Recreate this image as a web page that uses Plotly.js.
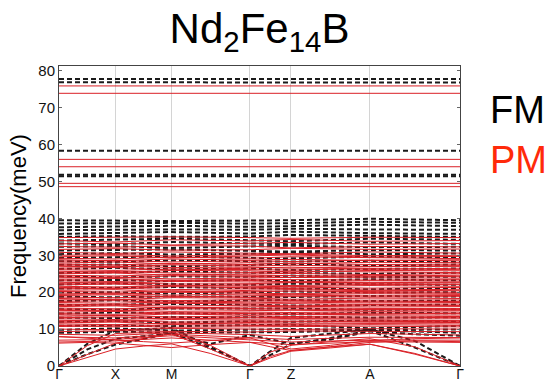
<!DOCTYPE html>
<html>
<head>
<meta charset="utf-8">
<script src="https://cdn.plot.ly/plotly-3.0.1.min.js"></script>
<style>html,body{margin:0;padding:0;background:#fff;}#chart{width:550px;height:382px;}</style>
</head>
<body>
<div id="chart"></div>
<script>
// k-path: high-symmetry points and their positions along the path
const kLabels = ['Γ', 'X', 'M', 'Γ', 'Z', 'A', 'Γ'];
const kTicks = [0, 0.564, 1.122, 1.905, 2.314, 3.102, 4.0];
// finer grid (high-symmetry points + midpoints) used for the acoustic-like branches
const kFine = [0, 0.282, 0.564, 0.843, 1.122, 1.51, 1.905, 2.11, 2.314, 2.71, 3.102, 3.55, 4.0];

// FM (ferromagnetic) bands, values at kTicks, meV
const fmHigh = [
  [77.8, 77.8, 77.8, 77.8, 77.8, 77.8, 77.8],
  [76.9, 76.9, 76.9, 76.9, 76.9, 76.9, 76.8],
  [58.3, 58.3, 58.3, 58.3, 58.3, 58.3, 58.3],
  [51.8, 51.8, 51.8, 51.8, 51.8, 51.8, 51.8],
  [51.4, 51.4, 51.4, 51.4, 51.4, 51.5, 51.4]
];
const fmBands = [
  [39.5, 39.4, 39.3, 39.4, 39.5, 39.9, 39.5],
  [38.6, 38.7, 38.8, 38.6, 38.7, 39.1, 38.8],
  [37.6, 37.8, 38.0, 37.7, 37.9, 38.3, 37.9],
  [36.8, 36.9, 37.0, 36.9, 37.2, 37.0, 36.9],
  [35.8, 36.0, 36.3, 35.9, 36.4, 36.0, 35.8],
  [35.0, 35.2, 35.0, 35.1, 35.5, 35.2, 35.0],
  [34.0, 34.3, 34.5, 34.1, 33.8, 34.5, 34.2],
  [33.2, 33.0, 33.6, 33.2, 33.0, 33.5, 33.1],
  [32.3, 32.5, 32.0, 32.4, 32.6, 32.2, 32.3],
  [31.3, 31.5, 31.6, 31.2, 31.0, 31.4, 31.3],
  [30.3, 30.6, 30.2, 30.4, 30.8, 30.3, 30.5],
  [29.3, 29.4, 29.7, 29.3, 29.2, 29.6, 29.4],
  [28.4, 28.2, 28.6, 28.5, 28.3, 28.5, 28.2],
  [27.4, 27.5, 27.0, 27.4, 27.6, 27.2, 27.5],
  [26.3, 26.6, 26.2, 26.4, 26.0, 26.3, 26.4],
  [25.2, 25.4, 25.6, 25.3, 25.2, 25.0, 25.3],
  [24.3, 24.0, 24.3, 24.2, 24.5, 24.1, 24.2],
  [23.2, 23.3, 23.0, 23.3, 23.1, 23.5, 23.2],
  [22.1, 22.4, 22.2, 22.0, 22.3, 22.2, 22.0],
  [21.0, 21.2, 21.4, 21.1, 21.0, 20.8, 21.1],
  [19.9, 20.0, 19.6, 20.0, 20.2, 19.9, 20.0],
  [18.8, 18.6, 18.9, 18.9, 18.7, 19.0, 18.8],
  [17.6, 17.8, 17.5, 17.7, 17.9, 17.6, 17.7],
  [16.5, 16.6, 16.8, 16.6, 16.4, 16.5, 16.6],
  [15.4, 15.3, 15.6, 15.5, 15.6, 15.2, 15.4],
  [14.2, 14.5, 14.3, 14.3, 14.1, 14.4, 14.3],
  [13.1, 13.0, 13.3, 13.2, 13.4, 13.1, 13.2],
  [12.0, 12.2, 11.8, 12.1, 12.0, 12.3, 12.0],
  [10.9, 11.0, 10.8, 11.0, 11.2, 10.2, 10.9],
  [9.8, 10.2, 9.6, 9.9, 10.0, 9.8, 9.9],
  [9.0, 9.3, 9.0, 9.1, 9.2, 9.7, 9.0]
];
// FM acoustic-like branches, values at kFine
const fmLow = [
  [0, 3.2, 5.8, 7.3, 8.9, 4.8, 0, 3.0, 5.9, 7.6, 9.6, 5.0, 0],
  [0, 6.0, 9.6, 10.0, 10.3, 5.2, 0, 4.0, 7.6, 8.8, 9.9, 6.8, 0],
  [0, 4.5, 7.4, 8.2, 8.8, 6.0, 8.4, 7.2, 6.1, 7.2, 9.4, 8.6, 8.2]
];

// PM (paramagnetic) bands, values at kTicks, meV
const pmHigh = [
  [75.9, 75.9, 75.9, 75.9, 75.9, 75.9, 75.9],
  [73.9, 73.9, 73.9, 73.9, 73.9, 73.9, 73.9],
  [56.0, 56.0, 56.0, 56.0, 56.0, 56.0, 56.0],
  [54.0, 54.0, 54.0, 54.0, 54.0, 54.0, 54.0],
  [49.5, 49.5, 49.5, 49.5, 49.5, 49.5, 49.5],
  [48.6, 48.6, 48.6, 48.6, 48.6, 48.7, 48.6]
];
const pmBands = [
  [34.8, 34.9, 35.0, 34.8, 34.6, 34.9, 34.8],
  [34.0, 33.6, 34.2, 33.9, 34.3, 33.8, 34.0],
  [33.1, 33.3, 32.8, 33.2, 33.5, 33.0, 33.2],
  [32.4, 32.2, 32.6, 32.5, 32.0, 32.4, 32.3],
  [31.6, 31.8, 31.4, 31.5, 31.9, 31.6, 31.7],
  [30.8, 30.5, 30.9, 30.7, 30.4, 30.9, 30.6],
  [30.0, 30.2, 29.8, 30.1, 30.3, 29.9, 30.0],
  [29.6, 29.9, 29.3, 29.8, 30.1, 29.5, 29.7],
  [29.2, 29.0, 29.5, 29.2, 29.6, 29.3, 29.1],
  [28.8, 28.5, 29.0, 28.7, 28.9, 28.6, 28.8],
  [28.4, 28.6, 28.2, 28.5, 28.3, 28.7, 28.5],
  [27.9, 28.2, 27.6, 28.0, 27.7, 28.1, 28.0],
  [27.6, 27.4, 27.8, 27.5, 27.9, 27.5, 27.6],
  [27.2, 26.9, 27.4, 27.1, 27.3, 27.0, 27.2],
  [26.9, 27.1, 26.7, 26.8, 26.5, 26.9, 27.0],
  [26.5, 26.7, 26.0, 26.6, 26.8, 26.2, 26.5],
  [26.1, 25.9, 26.3, 26.2, 26.0, 26.4, 26.1],
  [25.7, 25.3, 25.9, 25.8, 25.4, 25.9, 25.8],
  [25.4, 25.6, 25.2, 25.3, 25.7, 25.5, 25.3],
  [25.0, 25.2, 24.6, 24.9, 25.1, 24.8, 25.0],
  [24.6, 24.4, 24.8, 24.7, 24.5, 24.3, 24.6],
  [24.2, 23.9, 24.4, 24.3, 24.0, 24.6, 24.2],
  [23.9, 24.1, 23.6, 23.8, 24.0, 23.9, 23.8],
  [23.5, 23.7, 23.1, 23.5, 23.4, 23.3, 23.4],
  [23.1, 22.9, 23.3, 23.2, 22.8, 23.1, 23.0],
  [22.7, 22.4, 22.9, 22.8, 22.9, 22.6, 22.7],
  [22.4, 22.6, 22.2, 22.3, 22.6, 22.4, 22.5],
  [22.0, 22.2, 21.7, 22.0, 21.8, 22.1, 22.1],
  [21.6, 21.4, 21.8, 21.7, 21.5, 21.8, 21.6],
  [21.3, 21.0, 21.5, 21.2, 21.4, 21.1, 21.3],
  [20.9, 21.1, 20.7, 20.8, 21.0, 20.6, 20.8],
  [20.5, 20.7, 20.1, 20.5, 20.7, 20.4, 20.5],
  [20.2, 20.0, 20.4, 20.1, 20.3, 20.2, 20.0],
  [19.8, 19.5, 20.0, 19.8, 19.6, 19.9, 19.7],
  [19.4, 19.6, 19.2, 19.5, 19.3, 19.6, 19.4],
  [19.1, 19.3, 18.7, 19.0, 19.2, 19.0, 19.1],
  [18.7, 18.5, 18.9, 18.6, 18.8, 18.7, 18.8],
  [18.3, 18.0, 18.5, 18.4, 18.1, 18.4, 18.3],
  [17.9, 18.1, 17.7, 18.0, 17.8, 17.8, 17.9],
  [17.5, 17.7, 17.2, 17.6, 17.6, 17.4, 17.5],
  [17.2, 17.0, 17.4, 17.1, 17.3, 17.1, 17.2],
  [16.8, 16.5, 17.0, 16.8, 16.9, 16.7, 16.8],
  [16.4, 16.6, 16.2, 16.5, 16.3, 16.5, 16.4],
  [16.1, 16.3, 15.7, 16.0, 16.2, 16.0, 16.1],
  [15.7, 15.5, 15.9, 15.6, 15.8, 15.6, 15.6],
  [15.3, 15.0, 15.5, 15.4, 15.2, 15.3, 15.3],
  [15.0, 15.2, 14.8, 14.9, 15.1, 14.9, 15.0],
  [14.6, 14.8, 14.3, 14.6, 14.5, 14.7, 14.6],
  [14.2, 14.0, 14.4, 14.3, 14.1, 14.3, 14.2],
  [13.9, 13.6, 14.1, 13.8, 14.0, 13.9, 13.8],
  [13.5, 13.7, 13.3, 13.6, 13.4, 13.6, 13.4],
  [13.1, 13.3, 12.8, 13.2, 13.1, 13.0, 13.2],
  [12.8, 12.6, 13.0, 12.7, 12.9, 12.7, 12.8],
  [12.4, 12.1, 12.6, 12.4, 12.5, 12.5, 12.3],
  [12.1, 12.3, 11.9, 12.0, 12.2, 12.1, 12.0],
  [11.7, 11.9, 11.3, 11.8, 11.6, 11.7, 11.8],
  [11.4, 11.2, 11.6, 11.5, 11.3, 11.5, 11.4],
  [11.0, 10.6, 11.2, 11.0, 10.9, 11.2, 11.0],
  [10.7, 10.9, 10.5, 10.6, 10.8, 10.8, 10.6],
  [10.0, 9.8, 10.2, 10.1, 9.9, 10.1, 10.0],
  [9.3, 9.6, 9.4, 9.2, 9.5, 9.4, 9.3],
  [8.6, 8.3, 9.0, 8.5, 8.0, 8.8, 8.4],
  [7.9, 7.6, 8.6, 7.8, 7.2, 7.8, 7.7],
  [7.0, 7.2, 8.2, 7.1, 6.5, 7.0, 7.0],
  [6.5, 6.8, 7.6, 6.4, 5.8, 6.6, 6.4]
];
// PM acoustic-like branches, values at kFine
const pmLow = [
  [0, 3.0, 6.2, 7.5, 8.7, 4.6, 0, 2.6, 4.2, 5.2, 5.9, 3.4, 0],
  [0, 2.4, 4.6, 5.4, 6.0, 3.4, 0, 2.2, 4.0, 4.9, 5.9, 3.2, 0],
  [0, 5.5, 8.8, 9.0, 9.3, 5.6, 0, 3.8, 5.6, 6.6, 7.4, 5.2, 0],
  [6.2, 6.4, 6.2, 5.6, 5.0, 5.8, 6.4, 5.2, 4.2, 5.2, 6.4, 6.8, 6.6],
  [8.0, 7.6, 7.0, 6.6, 6.2, 6.8, 7.6, 6.0, 4.6, 5.6, 6.9, 7.4, 7.6]
];

function joinBands(bands, xs) {
  const x = [], y = [];
  bands.forEach(b => { b.forEach((v, i) => { x.push(xs[i]); y.push(v); }); x.push(null); y.push(null); });
  return {x, y};
}

const FMC = '#1a1a1a';
const PMC = 'rgb(218,32,38)';
const fmLine = {color: FMC, width: 2, dash: '5px,3px'};
const pmLine = {color: PMC, width: 1};

const traces = [];
[[fmHigh, kTicks], [fmBands, kTicks], [fmLow, kFine]].forEach(([b, xs]) => {
  const d = joinBands(b, xs);
  traces.push({type: 'scatter', mode: 'lines', x: d.x, y: d.y, line: fmLine, hoverinfo: 'skip', showlegend: false, connectgaps: false});
});
[[pmHigh, kTicks], [pmBands, kTicks], [pmLow, kFine]].forEach(([b, xs]) => {
  const d = joinBands(b, xs);
  traces.push({type: 'scatter', mode: 'lines', x: d.x, y: d.y, line: pmLine, hoverinfo: 'skip', showlegend: false, connectgaps: false});
});

const FONT = 'Liberation Sans, Arial, Helvetica, sans-serif';
const layout = {
  width: 550, height: 382,
  margin: {l: 59, r: 90, t: 66, b: 16},
  paper_bgcolor: '#fff', plot_bgcolor: '#fff',
  font: {family: FONT, color: '#111', size: 15},
  title: {text: 'Nd<sub>2</sub>Fe<sub>14</sub>B', font: {family: FONT, size: 42, color: '#000'},
          xref: 'paper', x: 0.5, xanchor: 'center', yref: 'container', y: 0.925, yanchor: 'middle'},
  xaxis: {range: [0, 4.0], tickvals: kTicks, ticktext: kLabels, showgrid: true, gridcolor: '#d4d4d4', gridwidth: 1,
          zeroline: false, showline: true, linecolor: '#444', linewidth: 1, mirror: true, ticks: '',
          ticklabelstandoff: -5,
          tickfont: {size: 14, family: FONT, color: '#111'}},
  yaxis: {range: [0, 81.3], tickvals: [0, 10, 20, 30, 40, 50, 60, 70, 80], showgrid: false, zeroline: false,
          showline: true, linecolor: '#444', linewidth: 1, mirror: 'ticks', ticks: 'inside', ticklen: 3, tickcolor: '#666',
          tickfont: {size: 15, family: FONT, color: '#111'},
          title: {text: 'Frequency(meV)', font: {size: 22, family: FONT, color: '#000'}, standoff: 5}},
  annotations: [
    {text: 'FM', xref: 'paper', yref: 'paper', x: 1.07, y: 0.853, xanchor: 'left', yanchor: 'middle', showarrow: false,
     font: {family: FONT, size: 38, color: '#000'}},
    {text: 'PM', xref: 'paper', yref: 'paper', x: 1.07, y: 0.687, xanchor: 'left', yanchor: 'middle', showarrow: false,
     font: {family: FONT, size: 38, color: '#ff2a0a'}}
  ]
};

Plotly.newPlot('chart', traces, layout, {staticPlot: true, displayModeBar: false});
</script>
</body>
</html>
